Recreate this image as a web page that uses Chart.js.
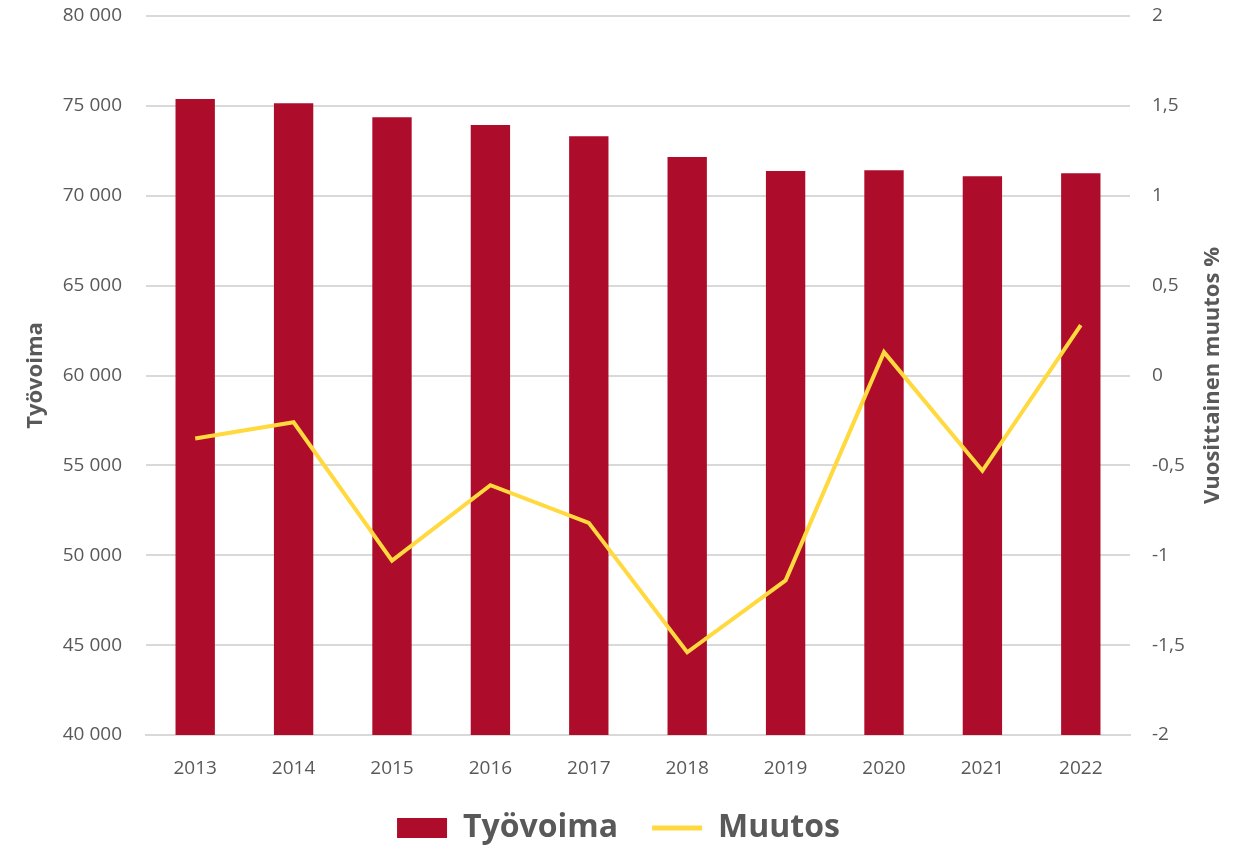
<!DOCTYPE html>
<html>
<head>
<meta charset="utf-8">
<script src="https://cdn.jsdelivr.net/npm/chart.js@4"></script>
<style>
  html, body { margin: 0; padding: 0; background: #fff; }
</style>
</head>
<body>
<canvas id="chart" width="1237" height="845"></canvas>
<script>
// Data
const vuodet = ['2013', '2014', '2015', '2016', '2017', '2018', '2019', '2020', '2021', '2022'];
const tyovoima = [75380, 75150, 74370, 73930, 73310, 72150, 71370, 71420, 71090, 71250];
const muutos = [-0.35, -0.26, -1.03, -0.61, -0.82, -1.54, -1.14, 0.13, -0.53, 0.28];

const harmaa = '#595959';
const fontti = 'Open Sans';
const oikeaOtsikko = 'Vuosittainen muutos %';

// right axis title reads bottom-to-top like the left one
const oikeaOtsikkoPlugin = {
  id: 'oikeaOtsikko',
  afterDraw: function (chart) {
    const c = chart.ctx;
    const a = chart.chartArea;
    c.save();
    c.translate(1213, (a.top + a.bottom) / 2);
    c.rotate(-Math.PI / 2);
    c.font = 'bold 22px "' + fontti + '"';
    c.fillStyle = harmaa;
    c.textAlign = 'center';
    c.textBaseline = 'middle';
    c.fillText(oikeaOtsikko, 0, 0);
    c.restore();
  },
};

const ctx = document.querySelector('#chart').getContext('2d');

const config = {
  type: 'bar',
  data: {
    labels: vuodet,
    datasets: [
      {
        type: 'line',
        label: 'Muutos',
        data: muutos,
        yAxisID: 'y2',
        borderColor: '#FFD93D',
        backgroundColor: '#FFD93D',
        borderWidth: 4,
        pointRadius: 0,
        tension: 0,
        order: 0,
      },
      {
        type: 'bar',
        label: 'Työvoima',
        data: tyovoima,
        yAxisID: 'y',
        backgroundColor: '#AD0C2B',
        categoryPercentage: 1,
        barPercentage: 0.4,
        order: 1,
      },
    ],
  },
  options: {
    responsive: false,
    animation: false,
    layout: { padding: { top: 16, bottom: -9 } },
    plugins: {
      tooltip: { enabled: false },
      legend: {
        position: 'bottom',
        labels: {
          color: harmaa,
          font: { family: fontti, size: 32, weight: 'bold' },
          usePointStyle: true,
          boxWidth: 50,
          boxHeight: 20,
          pointStyleWidth: 50,
          padding: 34,
          generateLabels: function (chart) {
            const sets = chart.data.datasets;
            // bar first, then the line
            return [
              {
                text: sets[1].label,
                fillStyle: sets[1].backgroundColor,
                strokeStyle: sets[1].backgroundColor,
                lineWidth: 0,
                pointStyle: 'rect',
                datasetIndex: 1,
                fontColor: harmaa,
              },
              {
                text: sets[0].label,
                fillStyle: sets[0].borderColor,
                strokeStyle: sets[0].borderColor,
                lineWidth: 5,
                pointStyle: 'line',
                datasetIndex: 0,
                fontColor: harmaa,
              },
            ];
          },
        },
      },
    },
    scales: {
      x: {
        afterFit: function (scale) { scale.height = 43; },
        grid: { display: false, drawTicks: false },
        border: { display: true, color: '#D9D9D9', width: 2 },
        ticks: {
          color: harmaa,
          font: { family: fontti, size: 19 },
          padding: 22,
        },
      },
      y: {
        position: 'left',
        min: 40000,
        max: 80000,
        afterFit: function (scale) {
          scale.width = 146;
          scale.paddingTop = 12;
          scale.paddingBottom = 12;
        },
        grid: { color: '#D9D9D9', lineWidth: 2, drawTicks: false },
        border: { display: false },
        ticks: {
          stepSize: 5000,
          color: harmaa,
          font: { family: fontti, size: 19 },
          padding: 24,
          callback: function (v) {
            return String(v).replace(/\B(?=(\d{3})+(?!\d))/g, ' ');
          },
        },
        title: {
          display: true,
          text: 'Työvoima',
          color: harmaa,
          font: { family: fontti, size: 22, weight: 'bold' },
          padding: { top: 23, bottom: 0 },
        },
      },
      y2: {
        position: 'right',
        min: -2,
        max: 2,
        afterFit: function (scale) {
          scale.width = 107;
          scale.paddingTop = 12;
          scale.paddingBottom = 12;
        },
        grid: { display: false, drawTicks: false },
        border: { display: false },
        ticks: {
          stepSize: 0.5,
          color: harmaa,
          font: { family: fontti, size: 19 },
          padding: 22,
          callback: function (v) {
            return String(v).replace('.', ',');
          },
        },
      },
    },
  },
  plugins: [oikeaOtsikkoPlugin],
};

const kaavio = new Chart(ctx, config);
</script>
</body>
</html>
